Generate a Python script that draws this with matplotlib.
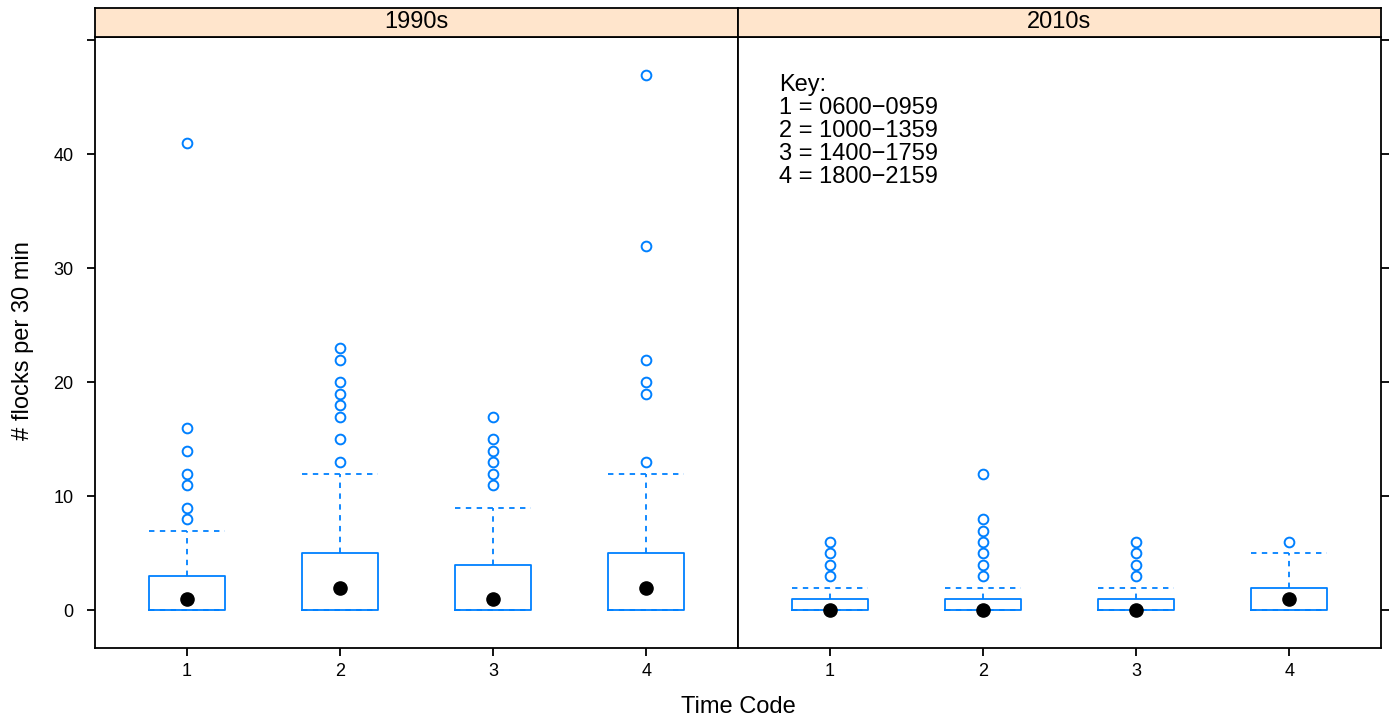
import matplotlib.pyplot as plt
import matplotlib.ticker as mticker

plt.rcParams['font.family'] = ['Liberation Sans', 'DejaVu Sans']

# data
time_codes = ["1", "2", "3", "4"]
decades = ["1990s", "2010s"]

q1_1990 = [0, 0, 0, 0]
q3_1990 = [3, 5, 4, 5]
med_1990 = [1, 2, 1, 2]
whi_1990 = [7, 12, 9, 12]
out_1990 = [
    [8, 9, 11, 12, 14, 16, 41],
    [13, 15, 17, 18, 19, 20, 22, 23],
    [11, 12, 13, 14, 15, 17],
    [13, 19, 20, 22, 32, 47],
]

q1_2010 = [0, 0, 0, 0]
q3_2010 = [1, 1, 1, 2]
med_2010 = [0, 0, 0, 1]
whi_2010 = [2, 2, 2, 5]
out_2010 = [
    [3, 4, 5, 6],
    [3, 4, 5, 6, 7, 8, 12],
    [3, 4, 5, 6],
    [6],
]

key_text = "Key:\n1 = 0600\u22120959\n2 = 1000\u22121359\n3 = 1400\u22121759\n4 = 1800\u22122159"

blue = "#0080ff"
strip_bg = "#ffe5cc"
W, H = 1397, 721


def px_axes(fig, left, top, right, bottom):
    return fig.add_axes([left / W, (H - bottom) / H, (right - left) / W, (bottom - top) / H])


def draw_panel(ax, q1, q3, med, whi, outs):
    stats = []
    for i in range(len(q1)):
        stats.append({"q1": q1[i], "q3": q3[i], "med": med[i],
                      "whislo": q1[i], "whishi": whi[i], "fliers": outs[i]})
    pos = list(range(1, len(stats) + 1))
    ax.bxp(stats, positions=pos, widths=0.5, capwidths=0.5, showfliers=True,
           boxprops=dict(color=blue, lw=1.3),
           whiskerprops=dict(color=blue, lw=1.3, linestyle=(0, (3, 3))),
           capprops=dict(color=blue, lw=1.3, linestyle=(0, (3, 3))),
           medianprops=dict(visible=False),
           flierprops=dict(marker="o", markerfacecolor="none", markeredgecolor=blue,
                           markersize=7, markeredgewidth=1.4))
    ax.scatter(pos, med, s=90, color="black", zorder=5)
    ax.set_xlim(0.4, 4.6)
    ax.set_ylim(-3.29, 50.29)
    ax.set_xticks(pos)
    ax.set_xticklabels(time_codes)
    for s in ax.spines.values():
        s.set_linewidth(1.3)
    ax.tick_params(direction="out", length=5.5, width=1.3, labelsize=13, pad=5)


fig = plt.figure(figsize=(W / 100, H / 100), dpi=100)

ax1 = px_axes(fig, 95, 37, 738, 648)
ax2 = px_axes(fig, 738, 37, 1381, 648)

draw_panel(ax1, q1_1990, q3_1990, med_1990, whi_1990, out_1990)
draw_panel(ax2, q1_2010, q3_2010, med_2010, whi_2010, out_2010)

yt = [0, 10, 20, 30, 40, 50]
ax1.set_yticks(yt)
ax1.yaxis.set_major_formatter(mticker.FuncFormatter(lambda v, p: "" if v == 50 else "%d" % v))
ax1.tick_params(axis="y", pad=10)
ax2.set_yticks(yt)
ax2.yaxis.tick_right()
ax2.tick_params(axis="y", labelright=False)

ax2.text(0.064, 0.94, key_text, transform=ax2.transAxes, fontsize=17,
         va="top", ha="left", linespacing=1.07)

# strips
for i, name in enumerate(decades):
    left = 95 + i * 643
    sa = px_axes(fig, left, 8, left + 643, 37)
    sa.set_facecolor(strip_bg)
    sa.set_xticks([])
    sa.set_yticks([])
    for s in sa.spines.values():
        s.set_linewidth(1.3)
    sa.text(0.5, 0.5, name, ha="center", va="center", fontsize=17, transform=sa.transAxes)

fig.text(738 / W, 1 - 707 / H, "Time Code", ha="center", va="center", fontsize=17)
fig.text(23 / W, 1 - 341 / H, "# flocks per 30 min", ha="center", va="center",
         rotation=90, fontsize=17)

fig.savefig("out.png", dpi=100)
